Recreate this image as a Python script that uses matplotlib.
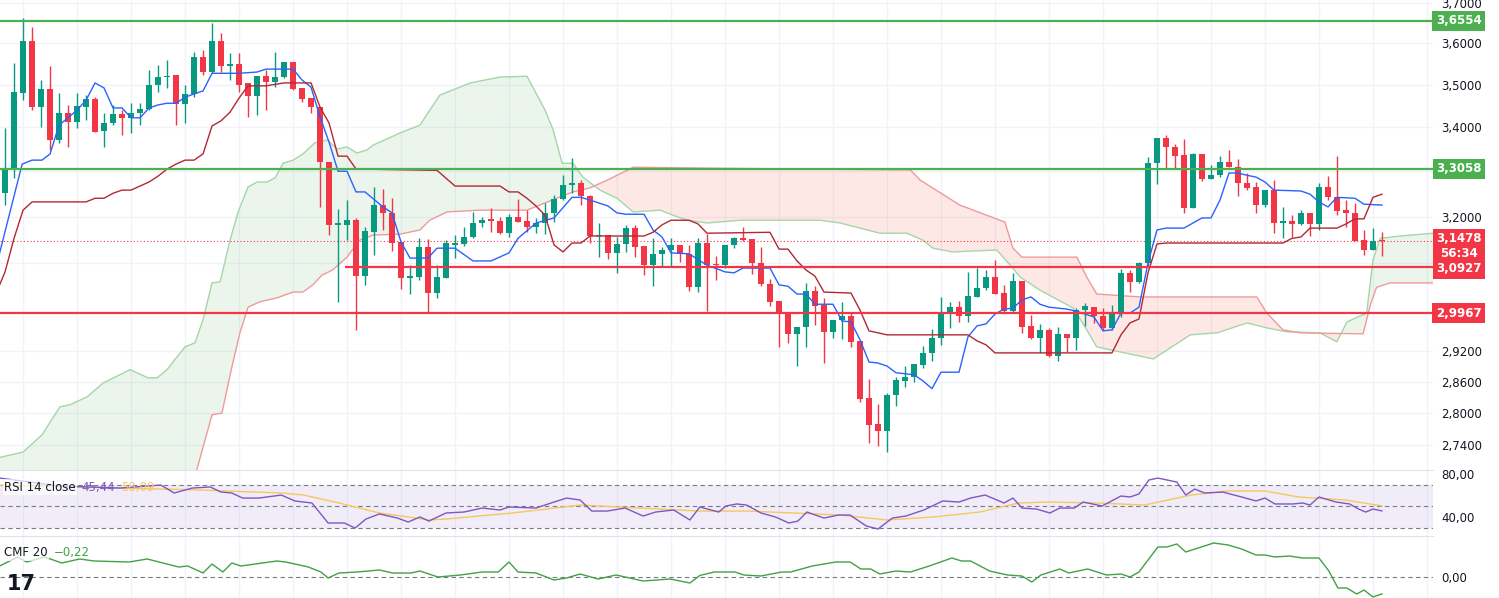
import numpy as np
import matplotlib
matplotlib.use("Agg")
import matplotlib.pyplot as plt
from matplotlib.ticker import FixedLocator, NullLocator, FuncFormatter
import matplotlib.transforms as mtransforms

# candles: open, high, low, close
opens = [3.251,3.302,3.480,3.605,3.447,3.489,3.371,3.433,3.412,3.447,3.466,3.391,3.410,3.431,3.422,3.433,3.442,3.499,3.518,3.522,
         3.454,3.478,3.566,3.530,3.605,3.544,3.549,3.504,3.473,3.520,3.506,3.518,3.554,3.492,3.468,3.447,3.321,3.182,3.182,3.192,
         3.073,3.166,3.225,3.208,3.145,3.069,3.071,3.134,3.038,3.069,3.139,3.141,3.156,3.186,3.195,3.190,3.164,3.199,3.190,3.177,
         3.186,3.208,3.238,3.269,3.274,3.245,3.158,3.160,3.122,3.141,3.175,3.137,3.096,3.120,3.128,3.139,3.120,3.050,3.143,3.098,
         3.096,3.139,3.153,3.151,3.1005,3.057,3.022,2.997,2.955,2.969,3.042,3.013,2.959,2.983,2.991,2.941,2.829,2.780,2.766,2.835,
         2.862,2.870,2.893,2.917,2.947,2.997,3.009,2.991,3.030,3.048,3.071,3.038,3.001,3.063,2.971,2.947,2.963,2.911,2.955,2.947,
         3.003,3.009,2.991,2.967,2.997,3.080,3.061,3.1005,3.318,3.375,3.355,3.336,3.218,3.339,3.283,3.291,3.321,3.309,3.274,3.265,
         3.225,3.258,3.186,3.190,3.184,3.208,3.184,3.265,3.242,3.214,3.208,3.149,3.128,3.149]
highs = [3.398,3.551,3.661,3.639,3.511,3.544,3.480,3.452,3.480,3.475,3.470,3.433,3.452,3.440,3.456,3.456,3.534,3.546,3.559,3.522,
         3.499,3.578,3.583,3.649,3.625,3.576,3.576,3.504,3.520,3.534,3.578,3.554,3.554,3.492,3.468,3.447,3.321,3.216,3.236,3.197,
         3.177,3.265,3.260,3.240,3.145,3.096,3.153,3.151,3.096,3.149,3.160,3.177,3.210,3.199,3.218,3.199,3.205,3.238,3.214,3.197,
         3.229,3.247,3.291,3.330,3.280,3.247,3.186,3.160,3.156,3.182,3.182,3.137,3.153,3.134,3.153,3.139,3.139,3.153,3.162,3.115,
         3.139,3.156,3.177,3.151,3.134,3.067,3.022,2.997,2.969,3.059,3.052,3.028,2.983,3.020,2.999,2.941,2.866,2.818,2.839,2.870,
         2.891,2.895,2.931,2.965,3.030,3.020,3.022,3.082,3.090,3.086,3.107,3.055,3.080,3.063,2.993,2.975,2.967,2.969,2.955,3.007,
         3.0175,3.009,3.007,3.013,3.088,3.086,3.103,3.332,3.375,3.382,3.361,3.373,3.341,3.339,3.314,3.334,3.348,3.327,3.296,3.276,
         3.258,3.280,3.221,3.203,3.214,3.208,3.274,3.289,3.334,3.236,3.229,3.171,3.175,3.166]
lows = [3.225,3.285,3.463,3.440,3.401,3.348,3.364,3.355,3.398,3.417,3.389,3.355,3.405,3.382,3.387,3.405,3.440,3.482,3.492,3.405,
        3.410,3.470,3.523,3.527,3.530,3.511,3.482,3.424,3.428,3.440,3.494,3.516,3.487,3.459,3.433,3.221,3.160,3.020,3.149,2.963,
        3.055,3.117,3.171,3.126,3.046,3.036,3.065,2.999,3.028,3.069,3.111,3.137,3.153,3.177,3.166,3.162,3.156,3.188,3.166,3.164,
        3.162,3.188,3.236,3.251,3.225,3.143,3.113,3.109,3.080,3.124,3.113,3.075,3.052,3.092,3.092,3.103,3.042,3.040,3.001,3.065,
        3.090,3.132,3.147,3.078,3.052,3.011,2.929,2.937,2.891,2.929,2.973,2.897,2.947,2.945,2.929,2.821,2.744,2.738,2.727,2.814,
        2.850,2.860,2.887,2.901,2.933,2.967,2.979,2.979,3.030,3.044,3.036,2.997,2.999,2.957,2.945,2.917,2.909,2.901,2.919,2.923,
        2.971,2.977,2.963,2.963,2.989,3.040,3.059,3.092,3.271,3.307,3.305,3.208,3.218,3.278,3.283,3.287,3.309,3.245,3.258,3.208,
        3.221,3.164,3.153,3.156,3.182,3.158,3.171,3.236,3.203,3.177,3.147,3.117,3.128,3.115]
closes = [3.307,3.482,3.605,3.447,3.489,3.371,3.433,3.412,3.449,3.466,3.389,3.410,3.431,3.422,3.433,3.442,3.499,3.518,3.520,3.454,
          3.478,3.566,3.530,3.605,3.544,3.549,3.499,3.473,3.520,3.506,3.518,3.554,3.489,3.466,3.447,3.321,3.182,3.186,3.192,3.073,
          3.169,3.225,3.208,3.143,3.069,3.073,3.134,3.038,3.071,3.143,3.143,3.156,3.186,3.192,3.190,3.164,3.199,3.188,3.177,3.186,
          3.208,3.238,3.269,3.274,3.245,3.158,3.160,3.122,3.141,3.175,3.134,3.096,3.120,3.128,3.139,3.120,3.050,3.143,3.096,3.096,
          3.139,3.153,3.149,3.1005,3.057,3.020,2.997,2.955,2.969,3.042,3.011,2.959,2.983,2.991,2.939,2.827,2.778,2.766,2.835,2.864,
          2.870,2.895,2.917,2.947,2.997,3.009,2.991,3.032,3.048,3.071,3.036,3.001,3.063,2.969,2.947,2.963,2.911,2.955,2.947,3.003,
          3.011,2.991,2.967,2.997,3.080,3.061,3.1005,3.318,3.375,3.355,3.334,3.218,3.339,3.283,3.291,3.321,3.309,3.274,3.262,3.225,
          3.258,3.186,3.190,3.184,3.208,3.184,3.265,3.242,3.212,3.208,3.147,3.128,3.147,3.1478]

# ichimoku lines (candle index, price)
tenkan_x = [-0.6,1.9,3,4.1,5,6,7,8,9,10,11,12,13,14,15,16,17,18,19,20,21,22,23,26,28,29,32,33,34,35,36,37,38,39,40,42,43,44,45,47,
            48,50,52,54,56,57,59,61,63,64,65,67,68,69,71,72,73,74,76,78,80,81,82,85,86,87,88,89,90,92,93,94,95,96,97,98,99,100,101,102,
            103,104,106,107,108,109,110,111,112,113,114,115,116,118,119,121,122,123,124,125,126,127,128,129,131,133,134,135,136,137,138,139,140,141,
            144,145,146,147,148,150,151,153]
tenkan_y = [3.122,3.316,3.325,3.325,3.339,3.405,3.422,3.440,3.463,3.504,3.492,3.445,3.445,3.422,3.422,3.445,3.452,3.456,3.456,3.470,
            3.478,3.485,3.527,3.527,3.530,3.537,3.537,3.511,3.494,3.424,3.366,3.300,3.300,3.254,3.254,3.221,3.208,3.145,3.111,3.111,
            3.132,3.132,3.105,3.105,3.122,3.153,3.186,3.197,3.242,3.242,3.236,3.223,3.208,3.205,3.205,3.171,3.156,3.122,3.120,3.096,
            3.082,3.080,3.090,3.090,3.055,3.052,3.036,3.036,3.015,3.015,2.981,2.979,2.943,2.899,2.897,2.891,2.878,2.876,2.874,2.862,
            2.847,2.879,2.879,2.949,2.971,2.975,2.995,3.005,3.007,3.024,3.030,3.015,3.009,3.005,3.001,2.989,2.961,2.963,2.997,2.997,
            3.009,3.1005,3.171,3.175,3.175,3.197,3.197,3.236,3.296,3.296,3.291,3.287,3.276,3.258,3.256,3.249,3.232,3.221,3.242,3.240,
            3.227,3.225]
kijun_x = [-0.6,0,1,2,3,9,10,11,12,13,14,15,16,17,18,19,20,21,22,23,24,25,26,27,29,31,34,35,36,37,38,39,48,50,55,56,57,58,59,60,
           61,62,63,64,65,71,72,73,74,76,77,78,85,86,87,88,89,90,91,94,95,96,98,107,108,109,110,123,124,125,126,127,128,129,142,143,144,145,148,149,
           150,151,152,153]
kijun_y = [3.055,3.082,3.153,3.214,3.232,3.232,3.240,3.240,3.251,3.258,3.258,3.267,3.276,3.289,3.305,3.316,3.325,3.325,3.339,3.403,
           3.415,3.435,3.468,3.497,3.497,3.504,3.504,3.447,3.410,3.334,3.334,3.305,3.302,3.267,3.267,3.254,3.254,3.240,3.223,3.203,
           3.139,3.124,3.143,3.143,3.158,3.158,3.166,3.182,3.192,3.192,3.184,3.164,3.166,3.130,3.130,3.105,3.086,3.073,3.040,3.038,
           3.003,2.961,2.953,2.953,2.941,2.933,2.917,2.917,2.953,2.977,2.985,3.080,3.141,3.143,3.143,3.153,3.156,3.175,3.175,3.184,
           3.195,3.195,3.242,3.249]
span_a_x = [-0.6,2,4.1,6.1,7.2,9.1,10.9,13.9,15.9,16.9,18,19.1,20,21.1,22,23,23.9,25,25.9,27,28,29.1,30,30.9,32,33.1,34.4,35.8,36.9,38,
            39.1,40.2,40.9,43.9,46.1,48.3,51.7,55,58,60,60.9,61.9,63.1,64.2,66.1,68,69.8,72.8,74.2,75.8,78,81.7,90.6,92.8,97.2,100.2,102,103.1,105.3,107.6,
            110.2,111.7,112.8,115,116.4,118.7,120.2,121.3,123.9,127.6,131.7,134.7,138,140.2,142.4,146.1,148,149.1,151.3,152,152.8,155,158.7]
span_a_y = [2.717,2.727,2.759,2.812,2.816,2.831,2.858,2.884,2.868,2.868,2.884,2.909,2.929,2.937,2.983,3.059,3.061,3.149,3.210,3.265,
            3.276,3.276,3.285,3.318,3.325,3.339,3.364,3.371,3.350,3.355,3.341,3.348,3.359,3.387,3.405,3.475,3.504,3.518,3.520,3.440,
            3.394,3.318,3.318,3.287,3.258,3.240,3.210,3.214,3.203,3.192,3.186,3.192,3.192,3.186,3.164,3.164,3.149,3.132,3.124,3.126,
            3.128,3.096,3.071,3.044,3.030,3.007,2.963,2.929,2.919,2.905,2.953,2.957,2.977,2.967,2.959,2.957,2.939,2.979,2.997,3.107,
            3.153,3.158,3.164]
span_b_x = [-0.6,16.1,20.6,21.3,23,24.1,25.2,26.1,27,28.3,30.2,32,33.1,34.2,35.2,36.4,38,39.4,40.9,43.9,46.1,47.2,49.1,52.8,58,59.4,
            61.3,63.1,65,66.9,68.7,69.8,78,100.6,101.7,106.1,111.1,112,113,119.1,120.2,121.3,126.1,139.1,140.2,142,143.9,150.9,151.7,152.4,
            153.9,158.7]
span_b_y = [2.534,2.569,2.658,2.694,2.797,2.800,2.889,2.957,3.009,3.020,3.028,3.040,3.040,3.055,3.075,3.086,3.113,3.149,3.160,3.162,
            3.171,3.192,3.210,3.214,3.214,3.225,3.240,3.254,3.263,3.280,3.298,3.309,3.307,3.303,3.280,3.225,3.188,3.132,3.113,3.113,
            3.071,3.036,3.030,3.030,2.997,2.963,2.957,2.955,3.013,3.050,3.059,3.059]

# RSI 14 and its moving average
rsi_x = [-0.6,6.1,12.8,17.3,18.8,20.8,22.8,24,25.2,26.4,28.2,30.7,32.2,34.1,35.9,37.7,38.9,40.1,41.6,43.6,44.8,46.1,47.1,49,51,53,55,56,
         59,61,62.4,63.9,65.2,66.9,68.9,70.9,72.3,74.3,76.1,77.2,79.3,80.1,81.3,82.4,84,85.6,87.1,88.1,89.1,91,92.6,93.9,95.7,97,98.6,100.1,
         102.1,104.2,106,107.3,108.9,111,112,113,114.6,116.1,117.2,118.8,119.8,121.9,124,125,126,127.1,128.1,130.2,131.2,132.2,133.3,135.3,137.4,139,
         140,141.1,143.1,144.2,145,146,147.9,149.4,150.4,151.2,152,153]
rsi_y = [76,68.6,66.7,69.5,62.1,66.7,67.7,63,62.1,57.4,57.4,60.2,54.7,52.8,34.2,34.2,29.5,37.9,42.6,38.8,35.1,39.8,36,43.5,44.4,48.1,46.3,49.1,
         48.1,53.7,57.4,55.6,45.3,45.3,48.1,40.7,44.4,46.3,37,49.1,44.4,50,51.9,50.9,43.5,39.8,34.2,36,44.4,38.8,41.6,41.6,31.4,28.6,38.8,40.7,
         46.3,54.7,53.7,57.4,60.2,52.8,57.4,48.1,47.2,43.5,48.1,48.1,53.7,50,59.3,58.4,61.2,74.2,76,72.3,60.2,65.8,62.1,63,58.4,54.7,
         57.4,51.9,51.9,52.8,50.9,58.4,53.7,51.9,47.2,44.4,47.2,45.44]
rsi_ma_x = [-0.6,12.8,21.7,30.7,33.2,37.1,41.6,47.1,49,56.4,63.9,77.2,82.4,87.6,92.8,98,103.2,108.3,112.6,116.1,121.3,126.6,131.8,135.9,140,143.7,148.9,153]
rsi_ma_y = [69.5,66.7,64.9,62.1,60.2,52.8,43.5,37,37.9,43.5,50.9,45.3,45.3,43.5,41.6,37,39.8,44.4,52.8,53.7,52.8,50.9,60.2,64,64,58.4,55.6,50.09]

# CMF 20
cmf_x = [-0.6,1.4,2.4,4.4,6.3,8.3,9.9,13.8,15.8,19.3,20.3,22,23,24.2,25.2,26.2,30.2,31.2,33.7,35.1,35.9,37.1,39.1,41.6,43.1,45.1,46.1,48.1,
         50.6,53,54.8,56,57,59,61,62.4,63.9,65.9,67.9,70.9,73.9,76.1,77.2,78.8,81.1,82.1,84,86.3,87.3,89.7,91,92.3,93.9,95.1,96.2,97.2,
         99,100.6,102.7,105.2,106.3,107.3,109.4,111.4,113,114.1,115.1,117.2,118.2,120.3,122.4,124,125,126,128.1,129.1,130.2,131.2,134.3,135.9,137.4,
         139,140,141.1,142.7,144.2,146,147.1,148.1,149.1,150.2,151,152,153]
cmf_y = [0.143,0.26,0.195,0.26,0.182,0.234,0.208,0.195,0.234,0.13,0.143,0.052,0.169,0.065,0.182,0.143,0.208,0.195,0.13,0.065,-0.013,0.052,
         0.065,0.091,0.052,0.052,0.078,0,0.026,0.065,0.065,0.195,0.065,0.052,-0.039,-0.013,0.039,-0.026,0.026,-0.052,-0.026,-0.078,0.02,0.065,
         0.065,0.026,0.013,0.065,0.065,0.143,0.169,0.195,0.195,0.104,0.104,0.039,0.078,0.065,0.143,0.247,0.208,0.208,0.078,0.026,0.013,-0.065,
         0.026,0.104,0.052,0.104,0.026,0.039,0,0.065,0.39,0.39,0.429,0.325,0.442,0.416,0.364,0.286,0.286,0.26,0.273,0.247,0.247,0.078,
         -0.143,-0.143,-0.221,-0.169,-0.26,-0.22]

# levels
green_levels = [3.6554, 3.3058]
red_levels = [3.0927, 2.9967]
last_price = 3.1478
rsi_last, rsi_ma_last, cmf_last = 45.44, 50.09, -0.22
price_ticks = [3.7, 3.6, 3.5, 3.4, 3.2, 2.92, 2.86, 2.80, 2.74]
hidden_grid = [3.3, 3.1, 3.0]

UP, DOWN = '#089981', '#F23645'
GRID = '#F0F3FA'
TXT = '#131722'

def comma(v, d):
    return f"{v:.{d}f}".replace('.', ',').replace('-', '\u2212')

fig = plt.figure(figsize=(14.99, 5.98), dpi=100)
W = 1433 / 1499
ax = fig.add_axes([0, 1 - 470 / 598, W, 470 / 598])
ax_rsi = fig.add_axes([0, 62 / 598, W, 66 / 598], sharex=ax)
ax_cmf = fig.add_axes([0, 0, W, 62 / 598], sharex=ax)

xs = np.arange(len(closes))
o = np.array(opens); c = np.array(closes); h = np.array(highs); l = np.array(lows)
cols = np.where(c >= o, UP, DOWN)
ax.vlines(xs, l, h, color=cols, lw=1, zorder=4)
bot = np.minimum(o, c); top = np.maximum(o, c)
ax.bar(xs, np.maximum(top - bot, 0.0012), bottom=bot, width=0.75, color=cols, zorder=5)

# cloud
grid_x = np.linspace(-0.6, 158.7, 800)
sa = np.interp(grid_x, span_a_x, span_a_y)
sb = np.interp(grid_x, span_b_x, span_b_y)
ax.fill_between(grid_x, sa, sb, where=sa >= sb, color='#43A047', alpha=0.1, lw=0, interpolate=True, zorder=1)
ax.fill_between(grid_x, sa, sb, where=sa < sb, color='#F44336', alpha=0.12, lw=0, interpolate=True, zorder=1)
ax.plot(span_a_x, span_a_y, color='#A5D6A7', lw=1, zorder=2)
ax.plot(span_b_x, span_b_y, color='#EF9A9A', lw=1, zorder=2)
ax.plot(tenkan_x, tenkan_y, color='#2962FF', lw=1, zorder=6)
ax.plot(kijun_x, kijun_y, color='#B22833', lw=1, zorder=6)

xmin, xmax = -0.56, 158.67
ax.hlines(green_levels, xmin, xmax, color='#4CAF50', lw=1.6, zorder=7)
ax.hlines(red_levels[0], 37.8, xmax, color='#F23645', lw=1.6, zorder=7)
ax.hlines(red_levels[1], xmin, xmax, color='#F23645', lw=1.6, zorder=7)
ax.axhline(last_price, color='#F23645', lw=0.8, ls=(0, (1, 2)), zorder=3)

ax.set_yscale('log')
ax.set_ylim(2.694, 3.707)
ax.set_xlim(xmin, xmax)
ax.yaxis.set_major_locator(FixedLocator(price_ticks))
ax.yaxis.set_minor_locator(NullLocator())
ax.yaxis.set_major_formatter(FuncFormatter(lambda v, p: comma(v, 4)))
for g in hidden_grid:
    ax.axhline(g, color=GRID, lw=1, zorder=0)

vgrid = np.arange(2, 159, 6)
for a in (ax, ax_rsi, ax_cmf):
    for s in a.spines.values():
        s.set_visible(False)
    a.yaxis.tick_right()
    a.tick_params(axis='y', length=0, pad=6, labelsize=8.5, labelcolor=TXT)
    a.tick_params(axis='x', bottom=False, labelbottom=False)
    for vx in vgrid:
        a.axvline(vx, color=GRID, lw=1, zorder=0)
    a.set_facecolor('white')
ax.grid(axis='y', color=GRID, lw=1, zorder=0)
ax.set_axisbelow(True)

# RSI panel
ax_rsi.axhspan(30, 70, color='#7E57C2', alpha=0.1, lw=0)
for lv in (70, 50, 30):
    ax_rsi.axhline(lv, color='#787B86', lw=0.8, ls=(0, (4, 3)))
ax_rsi.plot(rsi_ma_x, rsi_ma_y, color='#F7C75F', lw=1)
ax_rsi.plot(rsi_x, rsi_y, color='#7E57C2', lw=1)
ax_rsi.set_ylim(22.1, 83.5)
ax_rsi.yaxis.set_major_locator(FixedLocator([80, 40]))
ax_rsi.yaxis.set_major_formatter(FuncFormatter(lambda v, p: comma(v, 2)))
ax_rsi.spines['top'].set_visible(True)
ax_rsi.spines['top'].set_color('#E0E3EB')

# CMF panel
ax_cmf.axhline(0, color='#787B86', lw=0.8, ls=(0, (4, 3)))
ax_cmf.plot(cmf_x, cmf_y, color='#43A047', lw=1)
ax_cmf.set_ylim(-0.273, 0.533)
ax_cmf.yaxis.set_major_locator(FixedLocator([0]))
ax_cmf.yaxis.set_major_formatter(FuncFormatter(lambda v, p: comma(v, 2)))
ax_cmf.spines['top'].set_visible(True)
ax_cmf.spines['top'].set_color('#E0E3EB')

# price labels on the right axis
tr = mtransforms.blended_transform_factory(ax.transAxes, ax.transData)
def tag(y, s, color):
    ax.text(1.018, y, s, transform=tr, ha='center', va='center', color='white', fontsize=8.5,
            fontweight='bold', clip_on=False, zorder=10,
            bbox=dict(boxstyle='square,pad=0.3', fc=color, ec='none'))
tag(green_levels[0], comma(green_levels[0], 4), '#4CAF50')
tag(green_levels[1], comma(green_levels[1], 4), '#4CAF50')
tag(red_levels[1], comma(red_levels[1], 4), '#F23645')
tag(np.sqrt(last_price * red_levels[0]), comma(last_price, 4) + '\n56:34\n' + comma(red_levels[0], 4), '#F23645')

# legends, each piece placed right after the previous one
def legend(a, y, parts):
    prev = a.text(0.003, y, parts[0][0], transform=a.transAxes, fontsize=8.5, color=parts[0][1], va='center',
                  bbox=dict(fc='white', ec='none', alpha=0.7, pad=1), zorder=8)
    for s, col in parts[1:]:
        prev = a.annotate(s, xy=(1, 0.5), xycoords=prev, xytext=(4, 0), textcoords='offset points',
                          fontsize=8.5, color=col, va='center', zorder=8)

legend(ax_rsi, 0.74, [('RSI 14 close', TXT), (comma(rsi_last, 2), '#7E57C2'), (comma(rsi_ma_last, 2), '#F7C75F')])
legend(ax_cmf, 0.73, [('CMF 20', TXT), (comma(cmf_last, 2), '#43A047')])
ax_cmf.text(0.005, 0.22, '17', transform=ax_cmf.transAxes, fontsize=15, fontweight='heavy', color=TXT, va='center')

fig.savefig('out.png', dpi=100)
